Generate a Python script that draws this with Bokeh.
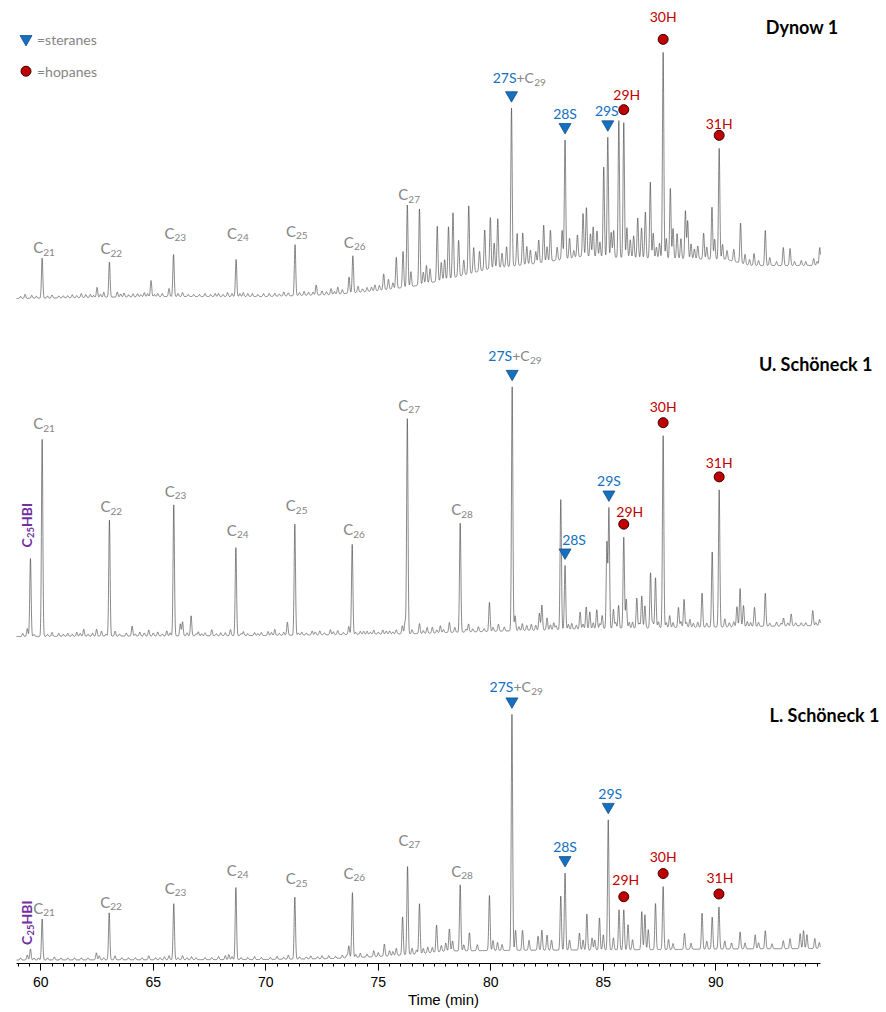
import numpy as np
from bokeh.plotting import figure
from bokeh.models import FixedTicker, Range1d
from bokeh.core.properties import value
from bokeh.embed import file_html
from bokeh.resources import INLINE

# ------------------------------------------------------------------ data
major_ticks = [60, 65, 70, 75, 80, 85, 90]
minor_ticks = [59.0 + 0.5 * i for i in range(72)]
time_start, time_end = 58.92, 94.65

samples = ["Dynow 1", "U. Schöneck 1", "L. Schöneck 1"]
sterane_names = ["27S+C29", "28S", "29S"]
hopane_names = ["29H", "30H", "31H"]

# --- Dynow 1 (baseline drift and peaks, arbitrary abundance units)
dynow_base_t = [58.92, 65.0, 70.0, 73.0, 75.0, 76.5, 78.0, 80.0, 82.0, 84.0, 85.5, 88.0, 90.5, 91.5, 94.65]
dynow_base_v = [0, 2, 2, 4, 8, 12, 19, 30, 35, 42, 41, 40, 39, 33, 33]
dynow_peak_t = [59.30, 59.60, 60.06, 60.50, 61.00, 61.40, 61.80, 62.20, 62.50, 62.80, 63.05, 63.40,
                63.70, 64.30, 64.60, 64.90, 65.20, 65.70, 65.90, 66.30, 66.80, 67.30, 67.90, 68.30,
                68.68, 69.00, 69.40, 69.90, 70.40, 70.80, 71.30, 71.70, 72.24, 72.50, 72.90, 73.20,
                73.70, 73.87, 74.10, 74.50, 74.85, 75.24, 75.45, 75.80, 76.10, 76.29, 76.45, 76.83,
                77.00, 77.14, 77.30, 77.62, 77.80, 77.95, 78.12, 78.32, 78.57, 78.80, 79.02, 79.24,
                79.50, 79.73, 79.98, 80.15, 80.31, 80.50, 80.70, 80.92, 81.17, 81.42, 81.60, 81.76,
                82.00, 82.13, 82.35, 82.50, 82.65, 82.95, 83.17, 83.30, 83.50, 83.69, 83.85, 84.10,
                84.25, 84.43, 84.55, 84.72, 84.85, 85.02, 85.20, 85.35, 85.46, 85.69, 85.91, 86.05,
                86.20, 86.35, 86.53, 86.70, 86.87, 87.09, 87.22, 87.36, 87.50, 87.66, 87.80, 87.98,
                88.10, 88.28, 88.45, 88.65, 88.75, 88.90, 89.05, 89.20, 89.46, 89.60, 89.83, 89.95,
                90.15, 90.30, 90.50, 90.80, 91.10, 91.30, 91.50, 91.70, 91.90, 92.20, 92.40, 92.70,
                93.00, 93.30, 93.50, 93.80, 94.00, 94.35, 94.50, 94.62]
dynow_peak_h = [4, 3, 40, 3, 2, 3, 4, 3, 10, 5, 35, 5,
                4, 3, 4, 16, 3, 8, 42, 4, 2, 3, 3, 4,
                37, 4, 3, 3, 3, 4, 51, 4, 10, 4, 6, 7,
                16, 37, 6, 4, 6, 16, 10, 31, 36, 82, 15, 76,
                12, 18, 14, 55, 18, 20, 52, 65, 36, 15, 68, 25,
                20, 40, 51, 25, 49, 14, 20, 158, 32, 32, 18, 14,
                12, 23, 37, 15, 31, 13, 29, 119, 20, 7, 22, 43,
                49, 23, 30, 26, 15, 90, 120, 25, 27, 137, 135, 30,
                18, 22, 40, 30, 46, 76, 25, 11, 15, 206, 20, 70,
                30, 25, 20, 48, 38, 15, 10, 13, 26, 12, 52, 20,
                111, 15, 9, 12, 40, 10, 6, 12, 5, 35, 8, 4,
                18, 17, 4, 5, 4, 7, 4, 18]
# small baseline wiggles
dynow_minor_t = [59.10, 59.80, 60.30, 60.80, 61.20, 61.60, 62.00, 62.35, 62.65, 63.55, 63.90, 64.10,
                 64.45, 64.75, 65.05, 65.40, 66.10, 66.55, 67.05, 67.55, 67.75, 68.10, 68.50, 68.85,
                 69.20, 69.65, 70.15, 70.60, 71.00, 71.50, 71.90, 72.10, 72.70, 73.05, 73.40, 74.30,
                 74.70, 75.05, 75.65]
dynow_minor_h = [2, 2, 2, 2, 2, 2, 3, 2, 3, 3, 2, 3,
                 2, 3, 2, 3, 3, 2, 2, 2, 3, 2, 3, 3,
                 3, 2, 3, 2, 3, 3, 3, 3, 3, 3, 4, 3,
                 4, 5, 6]
dynow_alkane_n = [21, 22, 23, 24, 25, 26, 27]
dynow_alkane_t = [60.06, 63.05, 65.90, 68.68, 71.30, 73.87, 76.29]
dynow_sterane_t = [80.92, 83.30, 85.20]
dynow_hopane_t = [85.91, 87.66, 90.15]

# --- U. Schöneck 1
us_base_t = [58.92, 70.0, 77.0, 78.0, 85.0, 94.65]
us_base_v = [0, 1, 3, 4, 8, 11]
us_peak_t = [59.20, 59.40, 59.54, 60.06, 60.50, 60.80, 61.20, 61.60, 61.91, 62.48, 62.70, 63.05,
             63.30, 64.06, 64.40, 64.80, 65.00, 65.20, 65.60, 65.91, 66.20, 66.30, 66.68, 67.00,
             67.30, 67.60, 68.00, 68.43, 68.67, 69.00, 69.50, 69.80, 70.10, 70.40, 70.96, 71.29,
             71.60, 72.06, 72.40, 72.87, 73.20, 73.69, 73.84, 74.20, 74.50, 74.80, 75.20, 75.50,
             75.80, 76.07, 76.19, 76.29, 76.83, 77.17, 77.40, 77.76, 78.16, 78.40, 78.64, 79.01,
             79.45, 79.94, 80.34, 80.95, 81.08, 81.40, 81.80, 82.16, 82.27, 82.50, 82.80, 83.11,
             83.30, 83.60, 83.97, 84.24, 84.40, 84.71, 84.95, 85.16, 85.25, 85.45, 85.68, 85.91,
             86.02, 86.30, 86.49, 86.71, 86.85, 87.10, 87.32, 87.45, 87.66, 87.95, 88.34, 88.59,
             88.85, 89.39, 89.84, 90.15, 90.40, 90.94, 91.08, 91.23, 91.72, 92.20, 92.70, 93.01,
             93.35, 93.80, 94.31, 94.61]
us_peak_h = [3, 8, 78, 197, 4, 3, 3, 4, 7, 7, 5, 116,
             5, 10, 4, 6, 3, 4, 5, 131, 12, 14, 20, 4,
             3, 6, 3, 6, 88, 4, 3, 3, 4, 6, 13, 111,
             3, 4, 4, 5, 4, 8, 90, 3, 3, 4, 4, 3,
             4, 8, 12, 215, 10, 6, 6, 7, 10, 5, 109, 8,
             5, 29, 7, 244, 15, 7, 6, 17, 25, 12, 7, 130,
             64, 6, 17, 22, 17, 19, 13, 86, 120, 19, 23, 91,
             29, 6, 30, 32, 22, 55, 50, 6, 192, 12, 20, 28,
             8, 34, 75, 137, 8, 20, 38, 21, 19, 33, 4, 8,
             12, 3, 15, 6]
us_minor_t = [59.70, 60.30, 61.00, 61.40, 61.75, 62.10, 62.30, 62.90, 63.50, 63.80, 64.20, 64.60,
              65.40, 65.75, 66.50, 66.90, 67.15, 67.80, 68.20, 68.90, 69.20, 69.65, 70.25, 70.60,
              70.80, 71.45, 71.80, 72.20, 72.60, 73.00, 73.45, 74.00, 74.35, 74.65, 75.00, 75.35,
              75.65, 76.50, 77.00, 77.60, 77.90, 78.90, 79.20, 79.70, 80.10, 80.60, 81.25, 81.60,
              82.00, 82.65, 82.90, 83.45, 83.80, 84.10, 84.55, 84.85, 85.55, 86.15, 86.60, 87.20,
              87.80, 88.10, 88.45, 88.70, 89.00, 89.20, 89.60, 90.60, 90.80, 91.40, 91.55, 91.90,
              92.40, 92.90, 93.20, 93.55, 94.00, 94.45]
us_minor_h = [2, 2, 2, 2, 3, 2, 3, 2, 2, 3, 2, 3,
              2, 3, 3, 2, 2, 2, 3, 2, 2, 2, 3, 2,
              3, 2, 2, 3, 2, 3, 2, 2, 3, 2, 2, 3,
              2, 4, 3, 3, 3, 3, 3, 3, 4, 4, 4, 5,
              5, 5, 4, 5, 4, 5, 6, 5, 6, 6, 5, 6,
              5, 5, 6, 5, 4, 5, 4, 4, 5, 5, 4, 4,
              3, 3, 3, 3, 3, 3]
us_alkane_n = [21, 22, 23, 24, 25, 26, 27, 28]
us_alkane_t = [60.06, 63.05, 65.91, 68.67, 71.29, 73.84, 76.29, 78.64]
us_sterane_t = [80.95, 83.30, 85.25]
us_hopane_t = [85.91, 87.66, 90.15]
us_hbi_t = 59.54

# --- L. Schöneck 1
ls_base_t = [58.92, 70.0, 73.0, 75.0, 77.0, 78.0, 80.0, 88.0, 90.0, 94.65]
ls_base_v = [0, 0.5, 1.5, 3.5, 6.5, 9, 9.5, 10.5, 11, 11.5]
ls_peak_t = [59.40, 59.54, 60.06, 60.60, 61.50, 62.47, 62.60, 63.04, 63.30, 64.80, 65.50, 65.70,
             65.91, 66.30, 66.70, 68.20, 68.36, 68.67, 69.50, 70.50, 71.00, 71.29, 72.00, 72.80,
             73.40, 73.69, 73.85, 74.20, 74.80, 75.00, 75.27, 75.50, 75.80, 76.08, 76.30, 76.50,
             76.83, 77.20, 77.59, 77.80, 78.00, 78.16, 78.30, 78.64, 78.80, 79.05, 79.40, 79.94,
             80.10, 80.30, 80.50, 80.94, 81.10, 81.41, 81.70, 82.10, 82.27, 82.50, 82.70, 83.11,
             83.30, 83.50, 83.94, 84.10, 84.27, 84.50, 84.62, 84.83, 85.00, 85.22, 85.45, 85.70,
             85.91, 86.10, 86.30, 86.71, 86.85, 87.00, 87.32, 87.66, 87.90, 88.10, 88.61, 88.90,
             89.39, 89.60, 89.84, 90.14, 90.40, 90.70, 91.08, 91.30, 91.75, 91.90, 92.20, 92.50,
             93.00, 93.30, 93.75, 93.90, 94.05, 94.40, 94.60]
ls_peak_h = [5, 11, 41, 3, 2, 7, 4, 47, 4, 4, 3, 4,
             56, 4, 3, 4, 5, 72, 3, 3, 4, 62, 3, 3,
             3, 12, 65, 4, 6, 4, 12, 5, 7, 38, 88, 6,
             50, 6, 27, 6, 8, 22, 10, 66, 6, 18, 6, 55,
             10, 8, 6, 236, 20, 20, 10, 14, 20, 15, 10, 54,
             77, 10, 17, 10, 36, 12, 10, 32, 15, 130, 12, 40,
             40, 25, 10, 38, 35, 20, 46, 63, 10, 6, 16, 6,
             36, 8, 32, 42, 8, 6, 17, 6, 14, 6, 18, 5,
             8, 10, 15, 18, 14, 10, 6]
ls_minor_t = [59.10, 59.70, 59.90, 60.30, 60.90, 61.20, 61.80, 62.10, 62.80, 63.60, 63.90, 64.20,
              64.50, 65.10, 65.30, 66.10, 66.50, 66.90, 67.30, 67.60, 67.90, 68.50, 68.90, 69.20,
              69.80, 70.20, 70.80, 71.50, 71.80, 72.30, 72.50, 73.10, 73.60, 74.00, 74.50, 75.65,
              76.70, 77.00, 77.40]
ls_minor_h = [2, 2, 2, 2, 2, 2, 2, 2, 2, 2, 2, 2,
              2, 2, 2, 2, 2, 2, 2, 2, 3, 3, 2, 2,
              2, 2, 2, 2, 2, 2, 3, 2, 3, 3, 3, 4,
              4, 5, 5]
ls_alkane_n = [21, 22, 23, 24, 25, 26, 27, 28]
ls_alkane_t = [60.06, 63.04, 65.91, 68.67, 71.29, 73.85, 76.30, 78.64]
ls_sterane_t = [80.94, 83.30, 85.22]
ls_hopane_t = [85.91, 87.66, 90.14]
ls_hbi_t = 59.54

# ------------------------------------------------------------------ layout / style
PX_PER_MIN = 22.5          # horizontal scale of the frame
T60_PAGE_X = 40.3          # page x of t = 60 min
AXIS_PAGE_Y = 963          # page y of the time axis


def tx(page_x):
    return 60 + (page_x - T60_PAGE_X) / PX_PER_MIN


def ty(page_y):
    return AXIS_PAGE_Y - page_y


OFFSETS = [ty(298), ty(636), ty(959.5)]
SIGMA = 0.03
ALK_GAP = [[11, 14, 22, 27, 14, 14, 11], [16, 14, 14, 18, 19, 15, 14, 14], [11, 11, 16, 18, 19, 20, 27, 14]]
MARK_GAP = 13
STER_LABEL_GAP = [[18, 13, 14], [18, 13, 14], [15, 14, 13]]
HOP_LABEL_GAP = [[15, 23, 12], [13, 16, 14], [17, 17, 16]]
STER_LABEL_DX = [[5, 0, -1], [0, 9, 0], [1.5, 0, 2]]
HOP_LABEL_DX = [[3, 0, 0], [6, 0, 0], [2, 0, 1]]
HBI_GAP = [None, 11, 4]
TITLE_POS = [(838, 26), (872, 363), (879, 714)]

FONT = "Lato"
GREY = "#858585"
BLUE = "#1470C0"
RED = "#C00000"
PURPLE = "#7030A0"

traces = [
    dict(bt=dynow_base_t, bv=dynow_base_v, pt=dynow_peak_t + dynow_minor_t, ph=dynow_peak_h + dynow_minor_h,
         an=dynow_alkane_n, at=dynow_alkane_t, st=dynow_sterane_t, ht=dynow_hopane_t, hbi=None),
    dict(bt=us_base_t, bv=us_base_v, pt=us_peak_t + us_minor_t, ph=us_peak_h + us_minor_h,
         an=us_alkane_n, at=us_alkane_t, st=us_sterane_t, ht=us_hopane_t, hbi=us_hbi_t),
    dict(bt=ls_base_t, bv=ls_base_v, pt=ls_peak_t + ls_minor_t, ph=ls_peak_h + ls_minor_h,
         an=ls_alkane_n, at=ls_alkane_t, st=ls_sterane_t, ht=ls_hopane_t, hbi=ls_hbi_t),
]


def signal(t, tr, off):
    t = np.atleast_1d(np.asarray(t, dtype=float))
    y = off + np.interp(t, tr["bt"], tr["bv"])
    for ti, hi in zip(tr["pt"], tr["ph"]):
        y = y + hi * np.exp(-0.5 * ((t - ti) / SIGMA) ** 2)
    return y


p = figure(width=886, height=1012, x_range=Range1d(tx(0), tx(886)), y_range=Range1d(0, ty(0)),
           output_backend="svg", toolbar_location=None, y_axis_location=None,
           min_border_left=0, min_border_right=0, min_border_top=0, min_border_bottom=1012 - AXIS_PAGE_Y)
p.outline_line_color = None
p.grid.visible = False
p.background_fill_color = "white"

tgrid = np.arange(time_start, time_end, 0.005)

for k, tr in enumerate(traces):
    off = OFFSETS[k]
    p.line(tgrid, signal(tgrid, tr, off), line_color="#3a3a3a", line_width=0.6)

    # n-alkane labels
    tops = signal(tr["at"], tr, off)
    ly = [tp + g for tp, g in zip(tops, ALK_GAP[k])]
    p.text(x=tr["at"], y=ly, text=["C"] * len(ly), text_align="right", text_baseline="middle",
           text_font=value(FONT), text_font_size="15px", text_color=GREY, x_offset=1)
    p.text(x=tr["at"], y=ly, text=[str(n) for n in tr["an"]], text_align="left", text_baseline="middle",
           text_font=value(FONT), text_font_size="10px", text_color=GREY, x_offset=1, y_offset=5)

    # steranes
    stops = signal(tr["st"], tr, off)
    my = [v + MARK_GAP for v in stops]
    p.scatter(tr["st"], my, marker="inverted_triangle", size=12, fill_color=BLUE,
              line_color="#1a4f85", line_width=0.8)
    lx = [t + dx / PX_PER_MIN for t, dx in zip(tr["st"], STER_LABEL_DX[k])]
    lyy = [m + g for m, g in zip(my, STER_LABEL_GAP[k])]
    # composite first label "27S" + "+C" + sub "29"
    p.text(x=[lx[0]], y=[lyy[0]], text=["27S"], text_align="right", text_baseline="middle",
           text_font=value(FONT), text_font_size="14px", text_color=BLUE)
    p.text(x=[lx[0]], y=[lyy[0]], text=["+C"], text_align="left", text_baseline="middle",
           text_font=value(FONT), text_font_size="14px", text_color=GREY)
    p.text(x=[lx[0] + 17.7 / PX_PER_MIN], y=[lyy[0]], text=["29"], text_align="left",
           text_baseline="middle", text_font=value(FONT), text_font_size="10px",
           text_color=GREY, y_offset=5)
    p.text(x=lx[1:], y=lyy[1:], text=sterane_names[1:], text_align="center", text_baseline="middle",
           text_font=value(FONT), text_font_size="14px", text_color=BLUE)

    # hopanes
    htops = signal(tr["ht"], tr, off)
    hy = [v + MARK_GAP for v in htops]
    p.scatter(tr["ht"], hy, marker="circle", size=10, fill_color=RED, line_color="#3a0000", line_width=1)
    hx = [t + dx / PX_PER_MIN for t, dx in zip(tr["ht"], HOP_LABEL_DX[k])]
    hly = [m + g for m, g in zip(hy, HOP_LABEL_GAP[k])]
    p.text(x=hx, y=hly, text=hopane_names, text_align="center", text_baseline="middle",
           text_font=value(FONT), text_font_size="14px", text_color=RED)

    # C25 HBI rotated label
    if tr["hbi"] is not None:
        top = signal([tr["hbi"]], tr, off)[0]
        ax = tr["hbi"] - 3.5 / PX_PER_MIN
        yb = top + HBI_GAP[k]
        p.text(x=[ax], y=[yb], text=["C"], angle=np.pi / 2, text_align="left", text_baseline="middle",
               text_font=value(FONT), text_font_size="14px", text_font_style="bold", text_color=PURPLE)
        p.text(x=[ax + 4 / PX_PER_MIN], y=[yb + 9.5], text=["25"], angle=np.pi / 2, text_align="left",
               text_baseline="middle", text_font=value(FONT), text_font_size="9.5px",
               text_font_style="bold", text_color=PURPLE)
        p.text(x=[ax], y=[yb + 20.5], text=["HBI"], angle=np.pi / 2, text_align="left",
               text_baseline="middle", text_font=value(FONT), text_font_size="14px",
               text_font_style="bold", text_color=PURPLE)

# sample titles
p.text(x=[tx(px) for px, _ in TITLE_POS], y=[ty(py) for _, py in TITLE_POS], text=samples,
       text_align="right", text_baseline="middle", text_font=value(FONT), text_font_size="18px",
       text_font_style="bold", text_color="black")

# legend
p.scatter([tx(25.5)], [ty(38.5)], marker="inverted_triangle", size=12, fill_color=BLUE,
          line_color="#1a4f85", line_width=0.8)
p.scatter([tx(25.5)], [ty(70.7)], marker="circle", size=10, fill_color=RED, line_color="#3a0000", line_width=1)
p.text(x=[tx(36.5), tx(36.5)], y=[ty(39.3), ty(71)], text=["=steranes", "=hopanes"], text_align="left",
       text_baseline="middle", text_font=value(FONT), text_font_size="14px", text_color=GREY)

# x axis
ax_ = p.xaxis[0]
ax_.ticker = FixedTicker(ticks=major_ticks, minor_ticks=minor_ticks)
ax_.bounds = (time_start, time_end)
ax_.axis_label = "Time (min)"
ax_.axis_label_text_font = "Liberation Sans"
ax_.axis_label_text_font_style = "normal"
ax_.axis_label_text_font_size = "15px"
ax_.axis_label_text_color = "black"
ax_.axis_label_standoff = 1
ax_.major_label_text_font = "Liberation Sans"
ax_.major_label_text_font_size = "14px"
ax_.major_label_text_color = "black"
ax_.major_label_standoff = 6
ax_.major_tick_in = 0
ax_.major_tick_out = 7
ax_.minor_tick_in = 0
ax_.minor_tick_out = 3
ax_.axis_line_color = "black"
ax_.major_tick_line_color = "black"
ax_.minor_tick_line_color = "black"

open("out.html", "w").write(file_html(p, INLINE))
